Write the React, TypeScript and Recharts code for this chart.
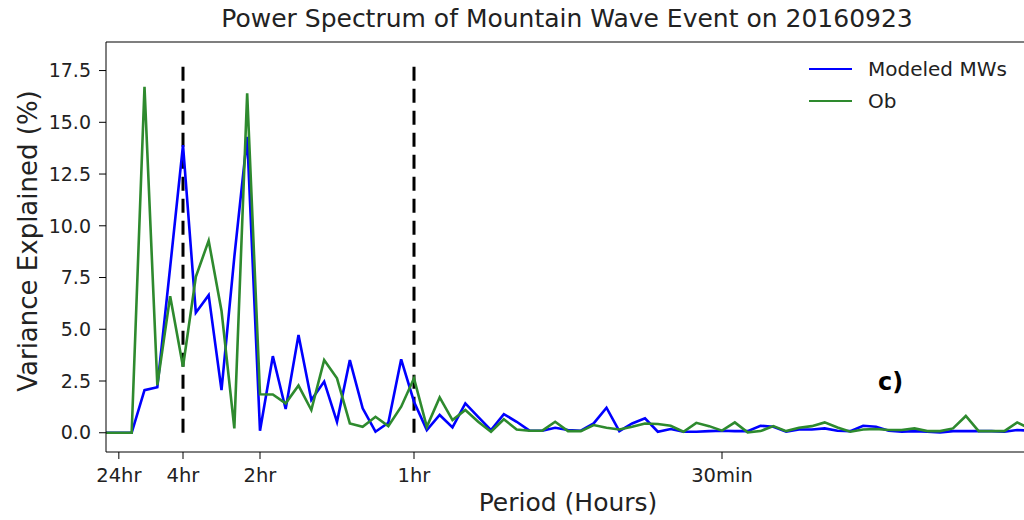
import React from 'react'
import { LineChart, Line, XAxis, YAxis, ReferenceLine } from 'recharts'

// frequency bins in cycles per day (0 .. 72)
const freq = [
  0, 1, 2, 3, 4, 5, 6, 7, 8, 9, 10, 11, 12, 13, 14, 15, 16, 17, 18, 19, 20, 21, 22, 23, 24,
  25, 26, 27, 28, 29, 30, 31, 32, 33, 34, 35, 36, 37, 38, 39, 40, 41, 42, 43, 44, 45, 46, 47,
  48, 49, 50, 51, 52, 53, 54, 55, 56, 57, 58, 59, 60, 61, 62, 63, 64, 65, 66, 67, 68, 69, 70,
  71, 72,
]

const modeledMWs = [
  0, 0, 0, 2.06, 2.2, 8.0, 13.9, 5.8, 6.65, 2.06, 8.5, 14.3, 0.1, 3.7, 1.15, 4.72, 1.58, 2.47,
  0.53, 3.51, 1.18, 0.05, 0.48, 3.55, 1.5, 0.13, 0.86, 0.26, 1.42, 0.77, 0.13, 0.9, 0.53, 0.1,
  0.1, 0.24, 0.13, 0.1, 0.45, 1.21, 0.08, 0.45, 0.7, 0.05, 0.18, 0.05, 0.05, 0.08, 0.1, 0.08,
  0.08, 0.34, 0.29, 0.05, 0.16, 0.16, 0.21, 0.1, 0.08, 0.34, 0.29, 0.1, 0.05, 0.08, 0.05, 0.02,
  0.08, 0.08, 0.08, 0.08, 0.05, 0.13, 0.1,
]

const ob = [
  0, 0, 0, 16.72, 2.3, 6.6, 3.19, 7.54, 9.28, 5.9, 0.21, 16.4, 1.86, 1.85, 1.42, 2.28, 1.1, 3.51,
  2.63, 0.45, 0.29, 0.77, 0.32, 1.26, 2.63, 0.29, 1.71, 0.61, 1.1, 0.53, 0.05, 0.65, 0.16, 0.1,
  0.1, 0.53, 0.08, 0.08, 0.37, 0.24, 0.16, 0.29, 0.45, 0.42, 0.34, 0.05, 0.48, 0.32, 0.1, 0.5,
  0.02, 0.08, 0.32, 0.08, 0.24, 0.32, 0.5, 0.25, 0.05, 0.16, 0.18, 0.13, 0.13, 0.21, 0.08, 0.08,
  0.21, 0.81, 0.08, 0.08, 0.08, 0.5, 0.2,
]

const periodTicks = [1, 6, 12, 24, 48]
const periodLabels = ['24hr', '4hr', '2hr', '1hr', '30min']
const yTicks = [0, 2.5, 5, 7.5, 10, 12.5, 15, 17.5]
const markers = [6, 24]

const Y_MIN = -0.93
const Y_MAX = 18.88
const FONT = '"DejaVu Sans", sans-serif'
const BLUE = '#0000ff'
const GREEN = '#2e8a2e'

const data = freq.map((f, i) => ({ f, modeled: modeledMWs[i], ob: ob[i] }))

function fmtPeriod(v: number): string {
  const i = periodTicks.indexOf(v)
  return i >= 0 ? periodLabels[i] : ''
}

export default function App() {
  return (
    <div
      style={{
        position: 'absolute',
        left: 0,
        top: 0,
        width: 1024,
        height: 520,
        overflow: 'hidden',
        background: '#fff',
        fontFamily: FONT,
        color: '#222',
      }}
    >
      <LineChart
        width={1040}
        height={520}
        data={data}
        margin={{ top: 42, right: 10, bottom: 38, left: 0 }}
      >
        <XAxis
          dataKey="f"
          type="number"
          domain={[0, 72]}
          ticks={periodTicks}
          tickFormatter={fmtPeriod}
          interval={0}
          height={30}
          stroke="#000"
          tickSize={7}
          tickMargin={9}
          tick={{ fill: '#222', fontSize: 19.5, fontFamily: FONT }}
        />
        <YAxis
          type="number"
          domain={[Y_MIN, Y_MAX]}
          ticks={yTicks}
          tickFormatter={(v: number) => v.toFixed(1)}
          width={106}
          stroke="#000"
          tickSize={7}
          tickMargin={8}
          tick={{ fill: '#222', fontSize: 19, fontFamily: FONT }}
        />
        <ReferenceLine y={Y_MAX} stroke="#000" strokeWidth={1.2} ifOverflow="visible" />
        {markers.map((m) => (
          <ReferenceLine
            key={m}
            segment={[
              { x: m, y: 0 },
              { x: m, y: 17.8 },
            ]}
            stroke="#000"
            strokeWidth={3}
            strokeDasharray="14 8"
          />
        ))}
        <Line
          dataKey="modeled"
          stroke={BLUE}
          strokeWidth={2.6}
          dot={false}
          isAnimationActive={false}
        />
        <Line
          dataKey="ob"
          stroke={GREEN}
          strokeWidth={2.6}
          dot={false}
          isAnimationActive={false}
        />
      </LineChart>

      <div
        style={{
          position: 'absolute',
          left: 567,
          top: 4,
          transform: 'translateX(-50%)',
          fontSize: 25,
          whiteSpace: 'nowrap',
        }}
      >
        Power Spectrum of Mountain Wave Event on 20160923
      </div>
      <div
        style={{
          position: 'absolute',
          left: 568,
          top: 488,
          transform: 'translateX(-50%)',
          fontSize: 25,
          whiteSpace: 'nowrap',
        }}
      >
        Period (Hours)
      </div>
      <div
        style={{
          position: 'absolute',
          left: 28,
          top: 241,
          transform: 'translate(-50%, -50%) rotate(-90deg)',
          fontSize: 26,
          whiteSpace: 'nowrap',
        }}
      >
        Variance Explained (%)
      </div>
      <div
        style={{
          position: 'absolute',
          left: 878,
          top: 368,
          fontSize: 24,
          fontWeight: 'bold',
          color: '#000',
        }}
      >
        c)
      </div>
      <div style={{ position: 'absolute', left: 809, top: 53, fontSize: 20 }}>
        {[
          { name: 'Modeled MWs', color: BLUE },
          { name: 'Ob', color: GREEN },
        ].map((it) => (
          <div
            key={it.name}
            style={{ display: 'flex', alignItems: 'center', height: 32 }}
          >
            <div style={{ width: 43, height: 2.6, background: it.color, marginRight: 16 }} />
            <span>{it.name}</span>
          </div>
        ))}
      </div>
    </div>
  )
}
